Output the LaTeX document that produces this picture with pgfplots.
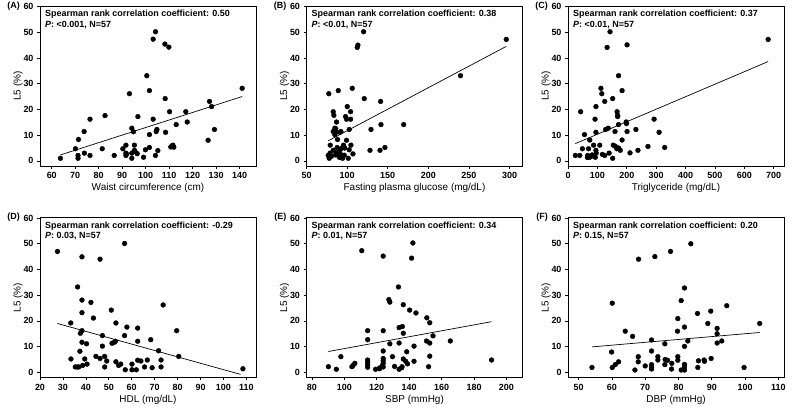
\documentclass[border=0pt]{standalone}
\usepackage{fontspec}
\setmainfont{Liberation Sans}
\usepackage{pgfplots}
\pgfplotsset{compat=1.18}
\pgfplotsset{
  panel/.style={
    scale only axis, width=216bp, height=160bp, anchor=north west,
    ymin=-2, ymax=60.2, ytick={0,10,20,30,40,50,60},
    tick align=outside, xtick pos=left, ytick pos=left,
    major tick length=3bp,
    every tick/.style={black, line width=0.6pt},
    axis line style={line width=0.7pt},
    /pgf/number format/assume math mode=true,
    tick label style={font=\fontsize{9}{10}\selectfont\bfseries},
    label style={font=\fontsize{9}{10}\selectfont},
    every axis y label/.style={at={([xshift=-22bp]rel axis cs:0,0.5)}, rotate=90, anchor=center},
    every axis x label/.style={at={([yshift=-22bp]rel axis cs:0.5,0)}, anchor=center},
    ylabel={L5 (\%)},
    clip=false,
  },
  dots/.style={only marks, mark=*, mark size=2.4bp, mark options={fill=black,draw=black}},
  fitline/.style={black, line width=0.7pt, no marks},
}
\newcommand{\stat}[2]{\node[anchor=north west, align=left, inner sep=0pt, font=\fontsize{9}{10.5}\selectfont\bfseries] at ([xshift=5bp,yshift=-4bp]rel axis cs:0,1) {Spearman rank correlation coefficient: #1\\\textit{P}: #2, N=57};}
\newcommand{\letter}[1]{\node[anchor=east, inner sep=0pt, font=\fontsize{9}{10}\selectfont\bfseries] at ([xshift=-20bp]rel axis cs:0,1) {(#1)};}
\begin{document}
\begin{tikzpicture}
\useasboundingbox (0,0) rectangle (792bp,410bp);
% (A)
\begin{axis}[panel, at={(40bp,404bp)}, xmin=55, xmax=147, xtick={60,70,...,140}, xlabel={Waist circumference (cm)}]
\addplot[dots] table {
63.7 1.0
70.1 4.7
71.4 8.3
71.2 2.1
71.2 1.0
73.8 11.4
73.9 3.0
76.3 16.2
76.3 2.1
81.5 4.7
82.7 17.6
86.6 2.1
90.3 4.7
91.6 6.1
91.6 3.0
91.6 2.1
93.1 26.1
94.1 12.7
94.1 3.0
94.1 1.0
94.8 11.3
95.2 6.1
95.2 4.1
96.4 2.8
96.7 17.2
99.1 1.4
99.9 4.3
100.5 33.1
101.6 10.2
101.6 5.2
101.6 27.3
103.2 47.3
103.2 16.2
104.2 50.2
104.2 2.1
104.5 11.4
104.8 12.2
105.2 4.0
108.2 45.4
108.3 24.2
108.5 11.1
109.9 44.2
110.2 19.1
110.7 5.4
111.6 6.1
112.0 5.3
113.0 14.1
117.1 19.1
117.7 15.1
126.6 8.0
127.2 23.1
128.1 21.1
129.3 12.2
141.1 28.2
91.8 2.6
95.5 3.6
111.2 5.8
};
\addplot[fitline] coordinates {(63.7,2.3) (141.1,25.0)};
\stat{0.50}{<0.001}
\letter{A}
\end{axis}
% (B)
\begin{axis}[panel, at={(306.5bp,404bp)}, xmin=50, xmax=316, xtick={50,100,...,300}, xlabel={Fasting plasma glucose (mg/dL)}]
\addplot[dots] table {
120.3 50.2
112.5 44.1
113.3 45.0
239.6 33.1
296.0 47.2
77.5 26.1
89.1 27.3
106.3 28.2
121.1 24.2
141.3 23.1
82.9 19.1
83.7 17.7
100.2 21.1
98.1 17.2
99.3 16.2
104.3 16.2
104.3 19.1
87.0 15.1
84.9 12.7
82.9 11.4
84.9 10.2
86.2 11.1
91.1 11.1
92.4 11.4
102.6 12.2
129.4 12.2
141.7 14.1
169.7 14.1
79.2 6.1
88.2 8.3
99.3 8.0
95.6 6.1
104.7 6.1
94.4 5.2
87.8 5.2
102.6 4.3
128.2 4.1
140.5 4.1
146.6 5.2
107.2 2.7
76.7 2.1
78.0 1.0
80.8 1.8
85.8 2.3
87.0 3.1
89.1 2.1
90.7 1.3
93.2 2.3
94.4 1.0
96.5 2.2
101.4 1.0
82.9 4.1
79.0 3.0
92.0 4.5
97.0 5.0
90.0 3.5
86.0 12.5
};
\addplot[fitline] coordinates {(76.7,7.8) (296,44.5)};
\stat{0.38}{<0.01}
\letter{B}
\end{axis}
% (C)
\begin{axis}[panel, at={(568bp,404bp)}, xmin=0, xmax=735, xtick={0,100,...,700}, xlabel={Triglyceride (mg/dL)}]
\addplot[dots] table {
143 50.2
201 45.1
133 44.1
681 47.2
172 33.1
112 28.2
115 26.1
184 27.3
152 24.2
125 23.1
95 21.1
43 19.1
167 19.1
169 17.7
169 17.2
92 16.2
293 16.2
198 15.1
199 14.5
172 14.1
137 12.7
128 12.2
231 12.2
310 11.1
160 11.4
201 11.4
95 11.1
56 10.2
74 8.1
184 8.1
87 6.1
108 6.1
154 6.1
161 5.7
49 4.7
70 4.7
166 4.7
172 5.0
178 4.1
272 5.6
329 5.2
238 4.1
211 3.1
140 3.0
95 4.1
96 3.0
25 2.1
40 2.1
67 2.1
74 1.4
82 2.3
87 1.8
93 1.4
117 2.5
125 2.1
66 1.3
152 1.0
};
\addplot[fitline] coordinates {(25,6.7) (681,38.6)};
\stat{0.37}{<0.01}
\letter{C}
\end{axis}
% (D)
\begin{axis}[panel, at={(40bp,192.5bp)}, xmin=20, xmax=114.2, xtick={20,30,...,110}, xlabel={HDL (mg/dL)}]
\addplot[dots] table {
27.6 47.0
38.3 44.9
46.2 44.0
56.9 50.1
36.4 33.2
38.3 28.1
42.2 27.2
38.3 23.2
43.3 21.1
33.4 19.2
51.1 24.2
53.1 19.2
57.9 17.6
62.6 17.2
73.7 26.2
79.6 16.2
38.3 16.2
37.6 15.2
47.2 14.3
56.9 14.3
62.6 12.1
68.3 12.7
52.9 12.1
52.4 11.7
51.4 11.3
38.3 11.7
40.3 11.1
47.2 10.2
37.4 8.2
71.7 8.4
80.5 6.2
44.4 6.2
48.2 6.2
33.5 5.2
39.5 5.2
46.2 5.4
49.1 4.4
53.1 4.1
62.6 4.7
64.0 4.4
66.8 4.8
72.8 4.8
40.5 3.2
38.6 2.7
54.3 2.7
55.2 3.2
60.1 3.2
35.4 2.1
36.3 2.1
36.9 2.1
48.2 2.1
65.6 2.1
68.9 1.8
72.8 2.1
57.2 1.0
60.1 1.0
62.0 1.0
108.5 1.4
};
\addplot[fitline] coordinates {(27.6,19.0) (107.5,-0.8)};
\stat{-0.29}{0.03}
\letter{D}
\end{axis}
% (E)
\begin{axis}[panel, at={(306.5bp,192.5bp)}, xmin=76.7, xmax=209.9, xtick={80,100,...,200}, xlabel={SBP (mmHg)}]
\addplot[dots] table {
142.3 50.3
110.8 47.3
124.0 45.2
141.5 44.4
133.4 33.2
127.5 28.3
128.1 27.3
136.4 26.3
140.3 24.2
144.2 23.1
150.9 21.2
152.7 19.3
114.4 16.2
124.0 16.2
133.8 17.4
135.8 17.8
136.4 15.2
154.7 14.2
114.4 12.7
128.1 11.1
133.8 11.4
150.7 12.2
152.7 11.4
165.4 12.2
143.0 10.2
124.0 8.3
138.5 8.0
97.9 6.1
129.7 6.1
152.7 6.3
124.0 5.4
136.4 5.2
114.4 4.8
114.4 4.0
137.9 4.3
143.0 4.3
190.8 4.8
114.4 3.0
106.5 3.5
105.3 2.6
124.0 3.5
123.4 2.5
90.2 2.2
104.7 2.2
124.0 2.1
121.8 1.7
152.0 2.2
135.6 2.2
95.1 1.2
119.3 1.2
121.8 1.4
133.8 1.2
135.4 1.8
114.4 2.0
124.0 4.5
131.0 2.3
139.0 3.3
};
\addplot[fitline] coordinates {(90.2,8.1) (190.8,19.7)};
\stat{0.34}{0.01}
\letter{E}
\end{axis}
% (F)
\begin{axis}[panel, at={(568bp,192.5bp)}, xmin=46.8, xmax=111.7, xtick={50,60,...,110}, xlabel={DBP (mmHg)}]
\addplot[dots] table {
83.7 50.0
77.6 47.0
72.9 45.0
68.0 44.0
81.8 32.8
80.8 27.9
60.1 26.9
94.5 25.9
85.7 22.9
89.7 23.8
79.8 20.9
88.8 19.0
104.4 19.0
81.8 17.6
91.6 17.1
64.0 16.0
79.7 16.0
91.6 15.0
66.2 14.0
82.8 12.2
71.9 12.6
93.0 12.2
91.6 11.4
75.9 11.1
81.8 10.1
59.9 7.9
71.9 8.3
67.9 6.1
73.8 6.1
79.8 6.1
89.8 5.4
87.7 4.8
87.8 4.3
73.8 4.8
76.7 4.7
79.8 4.7
62.0 4.1
67.9 4.1
75.9 3.0
71.9 3.0
81.8 3.1
54.0 1.9
60.1 1.9
71.9 1.9
85.8 1.9
99.7 1.9
71.9 1.3
77.9 1.3
66.9 0.9
80.8 0.9
81.8 0.9
81.8 2.1
70.0 2.5
78.0 3.5
86.0 4.5
61.0 3.0
76.0 5.0
};
\addplot[fitline] coordinates {(54.0,9.9) (104.4,15.5)};
\stat{0.20}{0.15}
\letter{F}
\end{axis}
\end{tikzpicture}
\end{document}
